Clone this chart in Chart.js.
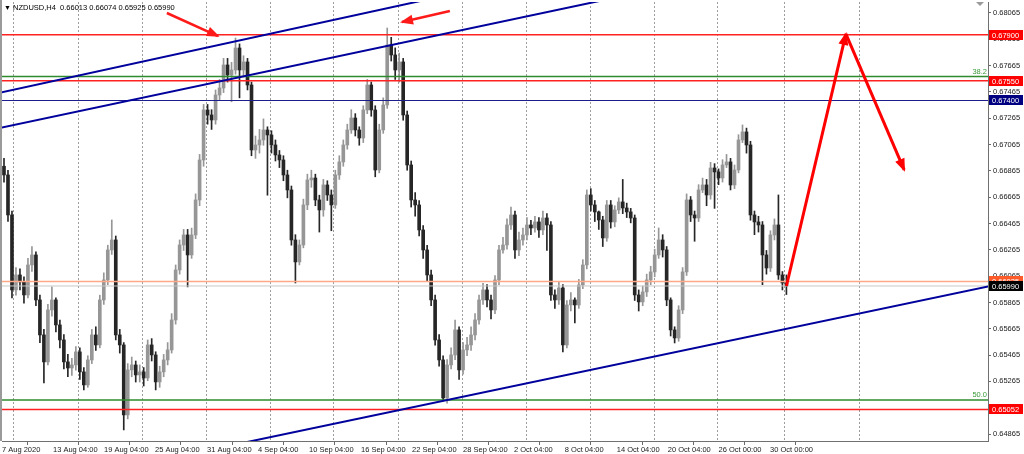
<!DOCTYPE html>
<html lang="en">
<head>
<meta charset="UTF-8">
<title>NZDUSD,H4</title>
<style>
  body { margin: 0; background: #fff; }
  #wrap { width: 1024px; height: 454px; }
</style>
</head>
<body>
<div id="wrap"><canvas id="chart" width="1024" height="454"></canvas></div>
<script src="https://cdn.jsdelivr.net/npm/chart.js"></script>
<script>
const symbol = 'NZDUSD,H4';

// H4 candles, 7 Aug 2020 .. 30 Oct 2020
const opens = [
  0.66900,0.66834,0.66530,0.65960,0.66074,0.66021,0.65922,0.66150,0.66226,0.65884,
  0.65618,0.65413,0.65808,0.65884,0.65694,0.65580,0.65413,0.65367,0.65390,0.65489,
  0.65337,0.65238,0.65428,0.65618,0.65542,0.65884,0.66036,0.66264,0.66340,0.65618,
  0.65542,0.65010,0.65352,0.65390,0.65314,0.65337,0.65291,0.65542,0.65466,0.65261,
  0.65337,0.65428,0.65504,0.65732,0.66112,0.66302,0.66378,0.66226,0.66378,0.66644,
  0.66948,0.67328,0.67290,0.67252,0.67442,0.67495,0.67670,0.67594,0.67632,0.67799,
  0.67632,0.67693,0.67518,0.67024,0.67062,0.67100,0.67176,0.67138,0.67062,0.66986,
  0.66948,0.66834,0.66720,0.66340,0.66173,0.66302,0.66606,0.66796,0.66811,0.66644,
  0.66568,0.66758,0.66682,0.66606,0.66834,0.66933,0.67062,0.67176,0.67267,0.67176,
  0.67115,0.67328,0.67518,0.67328,0.66872,0.67176,0.67366,0.67822,0.67746,0.67632,
  0.67693,0.67290,0.66910,0.66644,0.66606,0.66416,0.66264,0.66074,0.65884,0.65580,
  0.65428,0.65139,0.65390,0.65466,0.65656,0.65352,0.65504,0.65542,0.65618,0.65732,
  0.65884,0.65960,0.65884,0.65808,0.66036,0.66264,0.66302,0.66454,0.66530,0.66264,
  0.66340,0.66378,0.66454,0.66431,0.66477,0.66416,0.66507,0.66454,0.65922,0.65884,
  0.65975,0.65542,0.65846,0.65884,0.65846,0.65998,0.66150,0.66682,0.66606,0.66553,
  0.66492,0.66355,0.66606,0.66477,0.66568,0.66629,0.66583,0.66553,0.66507,0.65922,
  0.65869,0.65945,0.66036,0.66097,0.66226,0.66340,0.66264,0.65884,0.65656,0.65595,
  0.65808,0.66097,0.66644,0.66530,0.66507,0.66720,0.66758,0.66682,0.66887,0.66857,
  0.66811,0.66910,0.66933,0.66758,0.66872,0.67100,0.67161,0.67062,0.66530,0.66477,
  0.66454,0.66226,0.66127,0.66378,0.66454,0.66074,0.66013
];
const highs = [
  0.66960,0.66870,0.66560,0.66130,0.66120,0.66060,0.66200,0.66290,0.66250,0.65920,
  0.65660,0.65850,0.65983,0.65900,0.65730,0.65620,0.65470,0.65440,0.65530,0.65520,
  0.65370,0.65460,0.65660,0.65680,0.65920,0.66090,0.66300,0.66492,0.66370,0.65660,
  0.65560,0.65400,0.65450,0.65420,0.65390,0.65370,0.65580,0.65590,0.65490,0.65380,
  0.65470,0.65560,0.65780,0.66150,0.66340,0.66420,0.66420,0.66430,0.66690,0.66990,
  0.67370,0.67370,0.67330,0.67480,0.67560,0.67720,0.67720,0.67690,0.67875,0.67830,
  0.67740,0.67720,0.67540,0.67130,0.67180,0.67260,0.67200,0.67170,0.67100,0.67020,
  0.66980,0.66870,0.66750,0.66380,0.66340,0.66650,0.66840,0.66870,0.66840,0.66680,
  0.66800,0.66790,0.66720,0.66870,0.66980,0.67100,0.67220,0.67330,0.67300,0.67200,
  0.67360,0.67560,0.67540,0.67360,0.67220,0.67420,0.67951,0.67880,0.67800,0.67760,
  0.67720,0.67320,0.66940,0.66700,0.66640,0.66450,0.66300,0.66110,0.65920,0.65620,
  0.65460,0.65430,0.65520,0.65730,0.65680,0.65560,0.65600,0.65680,0.65780,0.65920,
  0.66010,0.66000,0.65920,0.66070,0.66300,0.66360,0.66500,0.66590,0.66560,0.66400,
  0.66430,0.66510,0.66490,0.66520,0.66510,0.66560,0.66540,0.66480,0.65960,0.66020,
  0.66000,0.65880,0.65940,0.65900,0.66040,0.66190,0.66720,0.66730,0.66640,0.66560,
  0.66520,0.66640,0.66640,0.66600,0.66660,0.66800,0.66620,0.66580,0.66530,0.65960,
  0.65990,0.66080,0.66140,0.66270,0.66431,0.66380,0.66290,0.65900,0.65680,0.65840,
  0.66130,0.66690,0.66670,0.66560,0.66760,0.66810,0.66800,0.66930,0.66920,0.66880,
  0.66950,0.66990,0.66960,0.66910,0.67140,0.67214,0.67190,0.67090,0.66560,0.66520,
  0.66480,0.66260,0.66410,0.66500,0.66682,0.66100,0.66074
];
const lows = [
  0.66780,0.66480,0.65900,0.65920,0.65960,0.65860,0.65900,0.66100,0.65840,0.65560,
  0.65253,0.65390,0.65760,0.65640,0.65520,0.65360,0.65300,0.65310,0.65350,0.65280,
  0.65200,0.65220,0.65400,0.65500,0.65520,0.65850,0.66000,0.66230,0.65580,0.65480,
  0.64896,0.64980,0.65300,0.65260,0.65260,0.65230,0.65270,0.65420,0.65200,0.65220,
  0.65300,0.65390,0.65480,0.65700,0.66080,0.66260,0.65983,0.66200,0.66350,0.66600,
  0.66900,0.67220,0.67180,0.67220,0.67400,0.67460,0.67540,0.67390,0.67600,0.67420,
  0.67580,0.67480,0.66980,0.66960,0.67000,0.67060,0.66680,0.67000,0.66940,0.66890,
  0.66790,0.66660,0.66300,0.66013,0.66150,0.66280,0.66570,0.66740,0.66600,0.66400,
  0.66520,0.66640,0.66410,0.66580,0.66800,0.66900,0.67030,0.67150,0.67130,0.67060,
  0.67080,0.67300,0.67280,0.66820,0.66850,0.67150,0.67340,0.67700,0.67560,0.67540,
  0.67250,0.66870,0.66590,0.66520,0.66370,0.66200,0.66030,0.65840,0.65540,0.65380,
  0.65116,0.65100,0.65360,0.65430,0.65280,0.65320,0.65460,0.65500,0.65580,0.65700,
  0.65850,0.65830,0.65740,0.65780,0.66000,0.66240,0.66270,0.66420,0.66200,0.66220,
  0.66300,0.66340,0.66380,0.66400,0.66360,0.66380,0.66260,0.65880,0.65820,0.65850,
  0.65489,0.65520,0.65800,0.65710,0.65820,0.65970,0.66120,0.66560,0.66480,0.66420,
  0.66290,0.66330,0.66430,0.66440,0.66540,0.66540,0.66510,0.66470,0.65880,0.65800,
  0.65840,0.65910,0.66000,0.66060,0.66200,0.66210,0.65840,0.65610,0.65557,0.65570,
  0.65780,0.66070,0.66480,0.66330,0.66480,0.66700,0.66600,0.66650,0.66580,0.66760,
  0.66780,0.66890,0.66720,0.66730,0.66850,0.67080,0.67000,0.66490,0.66380,0.66400,
  0.66000,0.66080,0.66100,0.66340,0.66040,0.65960,0.65925
];
const closes = [
  0.66834,0.66530,0.65960,0.66074,0.66021,0.65922,0.66150,0.66226,0.65884,0.65618,
  0.65413,0.65808,0.65884,0.65694,0.65580,0.65413,0.65367,0.65390,0.65489,0.65337,
  0.65238,0.65428,0.65618,0.65542,0.65884,0.66036,0.66264,0.66340,0.65618,0.65542,
  0.65010,0.65352,0.65390,0.65314,0.65337,0.65291,0.65542,0.65466,0.65261,0.65337,
  0.65428,0.65504,0.65732,0.66112,0.66302,0.66378,0.66226,0.66378,0.66644,0.66948,
  0.67328,0.67290,0.67252,0.67442,0.67495,0.67670,0.67594,0.67632,0.67799,0.67632,
  0.67693,0.67518,0.67024,0.67062,0.67100,0.67176,0.67138,0.67062,0.66986,0.66948,
  0.66834,0.66720,0.66340,0.66173,0.66302,0.66606,0.66796,0.66811,0.66644,0.66568,
  0.66758,0.66682,0.66606,0.66834,0.66933,0.67062,0.67176,0.67267,0.67176,0.67115,
  0.67328,0.67518,0.67328,0.66872,0.67176,0.67366,0.67822,0.67746,0.67632,0.67693,
  0.67290,0.66910,0.66644,0.66606,0.66416,0.66264,0.66074,0.65884,0.65580,0.65428,
  0.65139,0.65390,0.65466,0.65656,0.65352,0.65504,0.65542,0.65618,0.65732,0.65884,
  0.65960,0.65884,0.65808,0.66036,0.66264,0.66302,0.66454,0.66530,0.66264,0.66340,
  0.66378,0.66454,0.66431,0.66477,0.66416,0.66507,0.66454,0.65922,0.65884,0.65975,
  0.65542,0.65846,0.65884,0.65846,0.65998,0.66150,0.66682,0.66606,0.66553,0.66492,
  0.66355,0.66606,0.66477,0.66568,0.66629,0.66583,0.66553,0.66507,0.65922,0.65869,
  0.65945,0.66036,0.66097,0.66226,0.66340,0.66264,0.65884,0.65656,0.65595,0.65808,
  0.66097,0.66644,0.66530,0.66507,0.66720,0.66758,0.66682,0.66887,0.66857,0.66811,
  0.66910,0.66933,0.66758,0.66872,0.67100,0.67161,0.67062,0.66530,0.66477,0.66454,
  0.66226,0.66127,0.66378,0.66454,0.66074,0.66013,0.65990
];

// time axis labels and the bar they sit on
const dateLabels = ['7 Aug 2020', '13 Aug 04:00', '19 Aug 04:00', '25 Aug 04:00', '31 Aug 04:00',
  '4 Sep 04:00', '10 Sep 04:00', '16 Sep 04:00', '22 Sep 04:00', '28 Sep 04:00', '2 Oct 04:00',
  '8 Oct 04:00', '14 Oct 04:00', '20 Oct 04:00', '26 Oct 00:00', '30 Oct 00:00'];
const dateTickAt = [-0.5, 12.28, 25.05, 37.83, 50.85, 63.63, 76.4, 89.43, 102.2, 115.0,
  127.76, 140.5, 153.5, 166.3, 179.0, 191.9];
const gridAt = [2.33, 18.46, 34.5, 50.5, 66.6, 82.5, 98.6, 114.7, 130.7, 146.8, 162.8, 178.7, 195.3, 214.2];

const priceTicks = [0.68065, 0.67865, 0.67665, 0.67465, 0.67265, 0.67065, 0.66865, 0.66665,
  0.66465, 0.66265, 0.66065, 0.65865, 0.65665, 0.65465, 0.65265, 0.65065, 0.64865];

// horizontal levels drawn on the chart
const levelPrices = [0.67900, 0.67583, 0.67550, 0.67400, 0.66025, 0.65990, 0.65124, 0.65052];
const levelTags = ['', '38.2', '', '', '', '', '50.0', ''];

// trend lines and arrows: [bar, price] end points
const channelTop = [[-1, 0.67460], [120, 0.68260]];
const channelMid = [[-1, 0.67191], [160, 0.68226]];
const supportLine = [[40, 0.64671], [247, 0.65989]];
const arrowUp = [[196, 0.65990], [210.9, 0.67906]];
const arrowDown = [[210.9, 0.67906], [225.5, 0.66872]];
const arrowTop1 = [[40.8, 0.68065], [53.6, 0.67890]];
const arrowTop2 = [[111.7, 0.68080], [99.7, 0.67997]];

const xMin = -0.5, xMax = 246.5;
const yMin = 0.648118, yMax = 0.681486;

const levelStyles = [
  { color: '#ff2020', width: 1.5, badge: '#ff0000' },
  { color: '#2e8b2e', width: 1.5, badge: null },
  { color: '#ff2020', width: 1.5, badge: '#ff0000' },
  { color: '#1c1c8c', width: 1.2, badge: '#000080' },
  { color: '#ffa888', width: 1.5, badge: '#ff5a2a' },
  { color: '#c8c8c8', width: 1, badge: '#000000' },
  { color: '#2e8b2e', width: 1.5, badge: null },
  { color: '#ff2020', width: 1.5, badge: '#ff0000' }
];

const FONT = '"Liberation Sans", Arial, sans-serif';
const UP = '#969696', DOWN = '#262626';

function seg(points, color, width, extra) {
  return Object.assign({
    type: 'line',
    data: points.map(p => ({ x: p[0], y: p[1] })),
    borderColor: color,
    borderWidth: width,
    pointRadius: 0,
    tension: 0,
    fill: false,
    clip: 0,
    order: 0
  }, extra || {});
}

const idx = closes.map((c, i) => i);
const candleColor = c => closes[c.dataIndex] >= opens[c.dataIndex] ? UP : DOWN;

const datasets = [
  seg(arrowUp, '#ff0000', 3, { arrow: true }),
  seg(arrowDown, '#ff0000', 3, { arrow: true }),
  seg(arrowTop1, '#ff1a1a', 2.5, { arrow: true, clip: 20 }),
  seg(arrowTop2, '#ff1a1a', 2.5, { arrow: true, clip: 20 }),
  seg(channelTop, '#00009c', 2),
  seg(channelMid, '#00009c', 2),
  seg(supportLine, '#00009c', 2),
  ...levelPrices.map((p, i) => seg([[xMin, p], [xMax, p]], levelStyles[i].color, levelStyles[i].width, { order: 1 })),
  {
    type: 'bar',
    data: idx.map(i => ({ x: i, y: [opens[i], closes[i]] })),
    backgroundColor: candleColor,
    barThickness: 3,
    minBarLength: 1,
    grouped: false,
    order: 5
  },
  {
    type: 'bar',
    data: idx.map(i => ({ x: i, y: [lows[i], highs[i]] })),
    backgroundColor: candleColor,
    barThickness: 1,
    grouped: false,
    order: 6
  }
];

const mt4Overlay = {
  id: 'mt4Overlay',
  beforeDatasetsDraw(chart) {
    const { ctx, chartArea: a, scales: { x } } = chart;
    ctx.save();
    ctx.strokeStyle = '#9c9c9c';
    ctx.lineWidth = 1;
    ctx.setLineDash([2, 2]);
    gridAt.forEach(v => {
      const px = Math.round(x.getPixelForValue(v)) + 0.5;
      ctx.beginPath();
      ctx.moveTo(px, a.top);
      ctx.lineTo(px, a.bottom);
      ctx.stroke();
    });
    ctx.restore();
  },
  afterDraw(chart) {
    const { ctx, chartArea: a, scales: { y } } = chart;
    ctx.save();

    // arrow heads
    chart.data.datasets.forEach((ds, i) => {
      if (!ds.arrow) return;
      const pts = chart.getDatasetMeta(i).data;
      const p1 = pts[pts.length - 2], p2 = pts[pts.length - 1];
      const ang = Math.atan2(p2.y - p1.y, p2.x - p1.x);
      const len = 11, half = 5;
      ctx.fillStyle = ds.borderColor;
      ctx.beginPath();
      ctx.moveTo(p2.x + Math.cos(ang) * 2, p2.y + Math.sin(ang) * 2);
      ctx.lineTo(p2.x - Math.cos(ang) * len - Math.sin(ang) * half, p2.y - Math.sin(ang) * len + Math.cos(ang) * half);
      ctx.lineTo(p2.x - Math.cos(ang) * len + Math.sin(ang) * half, p2.y - Math.sin(ang) * len - Math.cos(ang) * half);
      ctx.closePath();
      ctx.fill();
    });

    // fibo tags
    ctx.font = '7.5px ' + FONT;
    ctx.textAlign = 'right';
    ctx.textBaseline = 'bottom';
    ctx.fillStyle = '#3a9a3a';
    levelPrices.forEach((p, i) => {
      if (levelTags[i]) ctx.fillText(levelTags[i], a.right - 1, y.getPixelForValue(p) - 1);
    });

    // price badges on the axis
    ctx.textAlign = 'left';
    ctx.textBaseline = 'middle';
    levelPrices.forEach((p, i) => {
      const st = levelStyles[i];
      if (!st.badge) return;
      const py = Math.round(y.getPixelForValue(p));
      ctx.fillStyle = st.badge;
      ctx.fillRect(a.right + 1, py - 5, 34, 10);
      ctx.fillStyle = '#fff';
      ctx.fillText(p.toFixed(5), a.right + 4, py + 0.5);
    });

    // window frame on the left, shift marker on the top right
    ctx.fillStyle = '#9a9a9a';
    ctx.fillRect(0, 0, 2, a.bottom);
    ctx.beginPath();
    ctx.moveTo(a.right - 4, a.top);
    ctx.lineTo(a.right - 12, a.top);
    ctx.lineTo(a.right - 8, a.top + 4);
    ctx.closePath();
    ctx.fill();

    // header line
    const n = closes.length - 1;
    ctx.fillStyle = '#000';
    ctx.font = '7px ' + FONT;
    ctx.fillText('\u25BC', 4, 8);
    ctx.font = '7.5px ' + FONT;
    ctx.fillText(symbol + '  ' + [opens[n], highs[n], lows[n], closes[n]].map(v => v.toFixed(5)).join(' '), 13, 8);
    ctx.restore();
  }
};

new Chart(document.getElementById('chart'), {
  type: 'bar',
  data: { datasets },
  options: {
    responsive: false,
    animation: false,
    events: [],
    layout: { padding: { left: 2, top: 2, right: 0, bottom: 0 } },
    plugins: { legend: { display: false }, tooltip: { enabled: false } },
    scales: {
      x: {
        type: 'linear',
        min: xMin,
        max: xMax,
        offset: false,
        grid: { drawOnChartArea: false, drawTicks: true, tickLength: 4, color: '#6a6a6a' },
        border: { color: '#707070', width: 1 },
        ticks: {
          autoSkip: false,
          maxRotation: 0,
          align: 'start',
          padding: 0,
          color: '#1a1a1a',
          font: { family: FONT, size: 7.5 },
          callback: v => {
            const k = dateTickAt.indexOf(v);
            return k >= 0 ? dateLabels[k] : '';
          }
        },
        afterBuildTicks: s => { s.ticks = dateTickAt.map(v => ({ value: v })); },
        afterFit: s => { s.height = 13; s.paddingLeft = 0; s.paddingRight = 0; }
      },
      y: {
        position: 'right',
        min: yMin,
        max: yMax,
        grid: { drawOnChartArea: false, drawTicks: true, tickLength: 3, color: '#6a6a6a' },
        border: { color: '#707070', width: 1 },
        ticks: {
          padding: 2,
          color: '#1a1a1a',
          font: { family: FONT, size: 7.5 },
          callback: v => v.toFixed(5)
        },
        afterBuildTicks: s => { s.ticks = priceTicks.map(v => ({ value: v })); },
        afterFit: s => { s.width = 36; s.paddingTop = 0; s.paddingBottom = 0; }
      }
    }
  },
  plugins: [mt4Overlay]
});
</script>
</body>
</html>
